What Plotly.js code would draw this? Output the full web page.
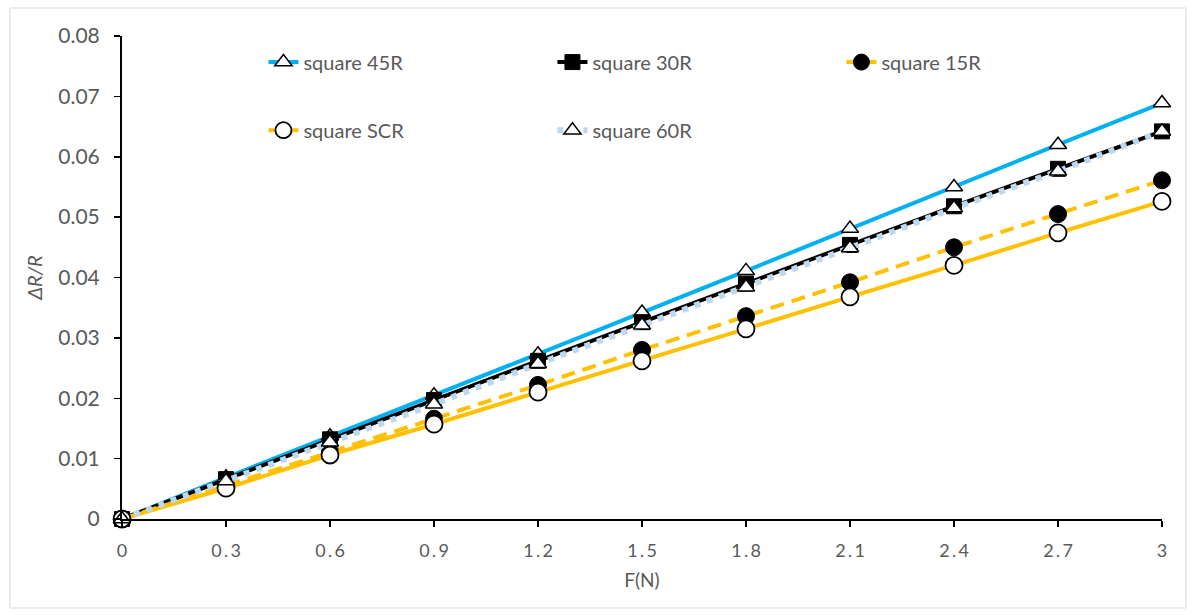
<!DOCTYPE html>
<html>
<head>
<meta charset="utf-8">
<script src="https://cdn.plot.ly/plotly-3.0.1.min.js"></script>
<style>html,body{margin:0;padding:0;background:#fff;}#chart{width:1194px;height:615px;}</style>
</head>
<body>
<div id="chart"></div>
<script>
const force = [0, 0.3, 0.6, 0.9, 1.2, 1.5, 1.8, 2.1, 2.4, 2.7, 3];
const xTickLabels = ["0", "0\u2009.\u20093", "0\u2009.\u20096", "0\u2009.\u20099", "1\u2009.\u20092", "1\u2009.\u20095", "1\u2009.\u20098", "2\u2009.\u20091", "2\u2009.\u20094", "2\u2009.\u20097", "3"];
const yTickVals = [0, 0.01, 0.02, 0.03, 0.04, 0.05, 0.06, 0.07, 0.08];
const yTickLabels = ["0", "0.01", "0.02", "0.03", "0.04", "0.05", "0.06", "0.07", "0.08"];

const sq45R = [0, 0.0069, 0.0137, 0.0205, 0.0273, 0.0342, 0.0411, 0.0481, 0.0550, 0.0620, 0.0689];
const sq30R = [0, 0.0066, 0.0132, 0.0197, 0.0262, 0.0326, 0.0390, 0.0454, 0.0518, 0.0580, 0.0642];
const sq15R = [0, 0.0055, 0.0111, 0.0166, 0.0222, 0.0280, 0.0336, 0.0392, 0.0450, 0.0505, 0.0561];
const sqSCR = [0, 0.0051, 0.0106, 0.0157, 0.0210, 0.0262, 0.0315, 0.0368, 0.0420, 0.0474, 0.0526];
const sq60R = [0, 0.0063, 0.0127, 0.0190, 0.0257, 0.0321, 0.0384, 0.0449, 0.0515, 0.0576, 0.0642];

const font = "Lato, 'Open Sans', sans-serif";
const gray = "#595959";

const traces = [
  {name: "square 45R", x: force, y: sq45R, mode: "lines+markers", legend: "legend", cliponaxis: false,
   line: {color: "#00B0F0", width: 4},
   marker: {symbol: "triangle-up", size: 15, color: "#FFFFFF", line: {color: "#000000", width: 1.5}}},
  {name: "square 30R", x: force, y: sq30R, mode: "lines+markers", legend: "legend", cliponaxis: false,
   line: {color: "#000000", width: 4},
   marker: {symbol: "square", size: 15, color: "#000000", line: {color: "#000000", width: 1}}},
  {name: "square 15R", x: force, y: sq15R, mode: "lines+markers", legend: "legend", cliponaxis: false,
   line: {color: "#FFC000", width: 4, dash: "14px,8px"},
   marker: {symbol: "circle", size: 17, color: "#000000", line: {color: "#000000", width: 1}}},
  {name: "square SCR", x: force, y: sqSCR, mode: "lines+markers", legend: "legend2", cliponaxis: false,
   line: {color: "#FFC000", width: 4},
   marker: {symbol: "circle", size: 17, color: "#FFFFFF", line: {color: "#000000", width: 1.8}}},
  {name: "square 60R", x: force, y: sq60R, mode: "lines+markers", legend: "legend2", cliponaxis: false,
   line: {color: "#BDD7EE", width: 6, dash: "6px,7px"},
   marker: {symbol: "triangle-up", size: 15, color: "#FFFFFF", line: {color: "#000000", width: 1.5}}}
];

const legendCommon = {
  orientation: "h", xanchor: "left", yanchor: "middle",
  font: {family: font, size: 20, color: gray},
  bgcolor: "rgba(0,0,0,0)", entrywidth: 244, entrywidthmode: "pixels",
  itemclick: false
};

const layout = {
  width: 1194, height: 615,
  paper_bgcolor: "#FFFFFF", plot_bgcolor: "#FFFFFF",
  margin: {l: 122, r: 32, t: 36, b: 96},
  font: {family: font, color: gray},
  showlegend: true,
  legend: Object.assign({}, legendCommon, {x: 0.136, y: 0.946}),
  legend2: Object.assign({}, legendCommon, {x: 0.136, y: 0.805}),
  xaxis: {
    range: [0, 3], tickvals: force, ticktext: xTickLabels,
    showline: true, linecolor: "#000000", linewidth: 2,
    ticks: "outside", ticklen: 6, tickwidth: 1.5, tickcolor: "#000000",
    showgrid: false, zeroline: false, ticklabelstandoff: 8,
    tickfont: {family: font, size: 18, color: gray},
    title: {text: "F(N)", font: {family: font, size: 19, color: gray}, standoff: 14}
  },
  yaxis: {
    range: [0, 0.08], tickvals: yTickVals, ticktext: yTickLabels,
    showline: true, linecolor: "#000000", linewidth: 2,
    ticks: "outside", ticklen: 6, tickwidth: 1.5, tickcolor: "#000000",
    showgrid: false, zeroline: false, ticklabelstandoff: 10,
    tickfont: {family: font, size: 21, color: gray},
    title: {text: "<i>ΔR/R</i>", font: {family: font, size: 20, color: gray}, standoff: 10}
  },
  shapes: [
    {type: "rect", xref: "paper", yref: "paper",
     x0: (10 - 122) / 1040, x1: (1186 - 122) / 1040,
     y0: (519 - 608) / 483, y1: (519 - 8) / 483,
     line: {color: "#D9D9D9", width: 1}, fillcolor: "rgba(0,0,0,0)", layer: "below"}
  ]
};

Plotly.newPlot("chart", traces, layout, {staticPlot: true, displayModeBar: false});
</script>
</body>
</html>
